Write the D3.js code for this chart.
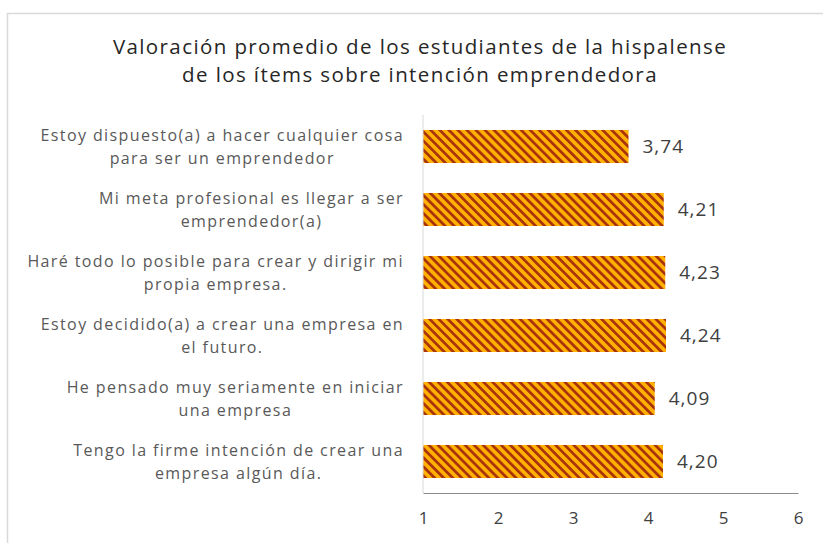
<!DOCTYPE html>
<html>
<head>
<meta charset="utf-8">
<script src="https://cdn.jsdelivr.net/npm/d3@7"></script>
<style>
  body { margin: 0; background: #fff; }
  svg { display: block; }
</style>
</head>
<body>
<svg width="823" height="543"></svg>
<script>
const titleLines = [
    "Valoración promedio de los estudiantes de la hispalense",
    "de los ítems sobre intención emprendedora"
]
// categories top to bottom, each already wrapped like the original
const categories = [
    ["Estoy dispuesto(a) a hacer cualquier cosa", "para ser un emprendedor"],
    ["Mi meta profesional es llegar a ser", "emprendedor(a)"],
    ["Haré todo lo posible para crear y dirigir mi", "propia empresa."],
    ["Estoy decidido(a) a crear una empresa en", "el futuro."],
    ["He pensado muy seriamente en iniciar", "una empresa"],
    ["Tengo la firme intención de crear una", "empresa algún día."]
]
const values = [3.74, 4.21, 4.23, 4.24, 4.09, 4.20]
const tickValues = [1, 2, 3, 4, 5, 6]

const FONT = "'Open Sans', sans-serif"
const svg = d3.select("svg")

// chart frame (only top and left edges show)
svg.append("rect")
    .attr("x", 7.5).attr("y", 13.5)
    .attr("width", 900).attr("height", 600)
    .attr("fill", "none")
    .attr("stroke", "#d9d9d9")
    .attr("stroke-width", 1.5)

// striped fill
const defs = svg.append("defs")
const pat = defs.append("pattern")
    .attr("id", "stripes")
    .attr("patternUnits", "userSpaceOnUse")
    .attr("width", 6.4).attr("height", 6.4)
    .attr("patternTransform", "rotate(-45)")
pat.append("rect").attr("width", 6.4).attr("height", 6.4).attr("fill", "#ffb000")
pat.append("rect").attr("width", 2.7).attr("height", 6.4).attr("fill", "#a8320c")

const x = d3.scaleLinear().domain([1, 6]).range([423, 798])
const y = d3.scaleBand()
    .domain(d3.range(categories.length))
    .range([115, 493])
    .paddingInner(0.476)
    .paddingOuter(0.238)

// title
svg.append("g")
    .selectAll("text")
    .data(titleLines)
    .join("text")
    .attr("x", 420)
    .attr("y", (d, i) => 54 + i * 28)
    .attr("text-anchor", "middle")
    .attr("font-family", FONT)
    .attr("font-size", 20.5)
    .attr("letter-spacing", 1.4)
    .attr("fill", "#262626")
    .text(d => d)

// bars
svg.append("g")
    .selectAll("rect")
    .data(values)
    .join("rect")
    .attr("x", x(1))
    .attr("y", (d, i) => y(i))
    .attr("width", d => x(d) - x(1))
    .attr("height", y.bandwidth())
    .attr("fill", "url(#stripes)")

// value labels
svg.append("g")
    .selectAll("text")
    .data(values)
    .join("text")
    .attr("x", d => x(d) + 14)
    .attr("y", (d, i) => y(i) + y.bandwidth() / 2)
    .attr("dy", "0.36em")
    .attr("font-family", FONT)
    .attr("font-size", 19)
    .attr("letter-spacing", 1)
    .attr("fill", "#404040")
    .text(d => d.toFixed(2).replace(".", ","))

// y axis line
svg.append("line")
    .attr("x1", x(1)).attr("x2", x(1))
    .attr("y1", 115).attr("y2", 493)
    .attr("stroke", "#d9d9d9")

// x axis
const xAxis = svg.append("g")
    .attr("transform", "translate(0,493)")
    .call(d3.axisBottom(x).tickValues(tickValues).tickFormat(d3.format("d"))
        .tickSize(0).tickPadding(19))
xAxis.select(".domain").attr("stroke", "#8c8c8c").attr("stroke-width", 1.2)
xAxis.selectAll("text")
    .attr("font-family", FONT)
    .attr("font-size", 17)
    .attr("fill", "#404040")

// category labels: block right-aligned at the axis, lines centred in block
const labelG = svg.append("g")
categories.forEach((lines, i) => {
    const cy = y(i) + y.bandwidth() / 2
    const texts = lines.map((t, j) => labelG.append("text")
        .attr("y", cy + (j - (lines.length - 1) / 2) * 22.5)
        .attr("dy", "0.36em")
        .attr("text-anchor", "middle")
        .attr("font-family", FONT)
        .attr("font-size", 16)
        .attr("letter-spacing", 1.4)
        .attr("fill", "#595959")
        .text(t))
    const maxW = d3.max(texts, t => t.node().getComputedTextLength())
    texts.forEach(t => t.attr("x", 404 - maxW / 2))
})
</script>
</body>
</html>
